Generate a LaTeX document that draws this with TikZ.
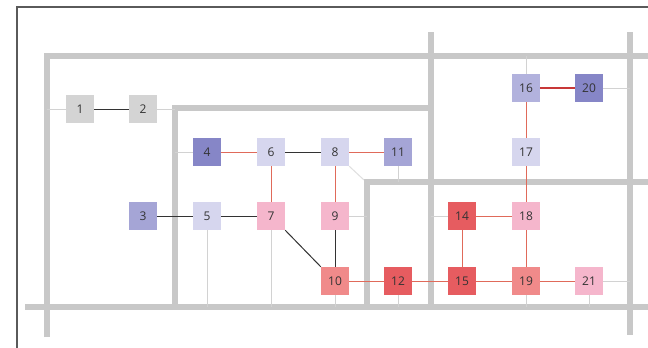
\documentclass[tikz,border=0pt]{standalone}
\usepackage{fontspec}
\setmainfont{Open Sans}
\definecolor{wallc}{HTML}{C8C8C8}
\definecolor{thinc}{HTML}{D2D2D2}
\definecolor{framec}{HTML}{5A5A5A}
\definecolor{cgray}{HTML}{D4D4D4}
\definecolor{cblueA}{HTML}{8686C7}
\definecolor{cblueB}{HTML}{A5A5D6}
\definecolor{cblueC}{HTML}{B2B2DD}
\definecolor{clav}{HTML}{D6D6EE}
\definecolor{cpink}{HTML}{F5B6CC}
\definecolor{csalm}{HTML}{F08A8A}
\definecolor{cred}{HTML}{E65C60}
\definecolor{redline}{HTML}{E06A5A}
\definecolor{darkred}{HTML}{C83838}
\definecolor{blackline}{HTML}{333333}
\begin{document}
\begin{tikzpicture}[x=1pt,y=-1pt,
  wall/.style={draw=wallc,line width=6pt},
  thin/.style={draw=thinc,line width=1pt},
  room/.style={rectangle,minimum size=28pt,inner sep=0pt,font=\fontsize{12}{14}\selectfont,text=black!80},
  redge/.style={draw=redline,line width=0.9pt},
  kedge/.style={draw=blackline,line width=1pt}]
\useasboundingbox (0,0) rectangle (648,348);
\fill[white] (0,0) rectangle (648,348);
% frame
\draw[framec,line width=1.2pt] (17,348) -- (17,7) -- (648,7);
% walls
\draw[wall] (47,337) -- (47,56) -- (428,56);
\draw[wall] (434,56) -- (648,56);
\draw[wall] (431,32) -- (431,307);
\draw[wall] (630,32) -- (630,335);
\draw[wall] (25,307) -- (648,307);
\draw[wall] (175,307) -- (175,108) -- (431,108);
\draw[wall] (367,307) -- (367,182) -- (648,182);
% rooms
\node[room,fill=cgray]  (n1)  at (80,109) {1};
\node[room,fill=cgray]  (n2)  at (143,109) {2};
\node[room,fill=cblueA] (n4)  at (207,152) {4};
\node[room,fill=clav]   (n6)  at (271,152) {6};
\node[room,fill=clav]   (n8)  at (335,152) {8};
\node[room,fill=cblueB] (n11) at (398,152) {11};
\node[room,fill=cblueC] (n16) at (526,88) {16};
\node[room,fill=cblueA] (n20) at (589,88) {20};
\node[room,fill=clav]   (n17) at (526,152) {17};
\node[room,fill=cblueB] (n3)  at (143,216) {3};
\node[room,fill=clav]   (n5)  at (207,216) {5};
\node[room,fill=cpink]  (n7)  at (271,216) {7};
\node[room,fill=cpink]  (n9)  at (335,216) {9};
\node[room,fill=cred]   (n14) at (462,216) {14};
\node[room,fill=cpink]  (n18) at (526,216) {18};
\node[room,fill=csalm]  (n10) at (335,281) {10};
\node[room,fill=cred]   (n12) at (398,281) {12};
\node[room,fill=cred]   (n15) at (462,281) {15};
\node[room,fill=csalm]  (n19) at (526,281) {19};
\node[room,fill=cpink]  (n21) at (589,281) {21};
% wall anchor points
\coordinate (w1) at (47,109);
\coordinate (w2) at (175,109);
\coordinate (w4) at (175,152);
\coordinate (w5) at (207,307);
\coordinate (w7) at (271,307);
\coordinate (w10) at (335,307);
\coordinate (w12) at (398,307);
\coordinate (w19) at (526,307);
\coordinate (w21) at (589,307);
\coordinate (w9) at (367,216);
\coordinate (w14) at (431,216);
\coordinate (w11) at (398,182);
\coordinate (w16) at (526,56);
\coordinate (w20) at (630,88);
\coordinate (w21r) at (630,281);
\coordinate (wc) at (364,180);
% thin connectors to walls
\draw[thin] (w1) -- (n1.west);
\draw[thin] (n2.east) -- (w2);
\draw[thin] (w4) -- (n4.west);
\draw[thin] (n5.south) -- (w5);
\draw[thin] (n7.south) -- (w7);
\draw[thin] (n10.south) -- (w10);
\draw[thin] (n12.south) -- (w12);
\draw[thin] (n19.south) -- (w19);
\draw[thin] (n21.south) -- (w21);
\draw[thin] (n9.east) -- (w9);
\draw[thin] (w14) -- (n14.west);
\draw[thin] (n11.south) -- (w11);
\draw[thin] (w16) -- (n16.north);
\draw[thin] (n20.east) -- (w20);
\draw[thin] (n21.east) -- (w21r);
\draw[thin,draw=thinc!70] (n8.south east) -- (wc);
% links
\draw[kedge] (n1) -- (n2);
\draw[redge] (n4) -- (n6);
\draw[kedge] (n6) -- (n8);
\draw[redge] (n8) -- (n11);
\draw[redge] (n6) -- (n7);
\draw[redge] (n8) -- (n9);
\draw[kedge] (n3) -- (n5);
\draw[kedge] (n5) -- (n7);
\draw[kedge] (n7.south east) -- (n10.north west);
\draw[kedge] (n9) -- (n10);
\draw[redge] (n10) -- (n12);
\draw[redge] (n12) -- (n15);
\draw[redge] (n15) -- (n19);
\draw[redge] (n19) -- (n21);
\draw[redge] (n14) -- (n15);
\draw[redge] (n14) -- (n18);
\draw[redge] (n18) -- (n19);
\draw[redge] (n17) -- (n18);
\draw[redge] (n16) -- (n17);
\draw[darkred,line width=1.2pt] (n16) -- (n20);
\end{tikzpicture}
\end{document}
